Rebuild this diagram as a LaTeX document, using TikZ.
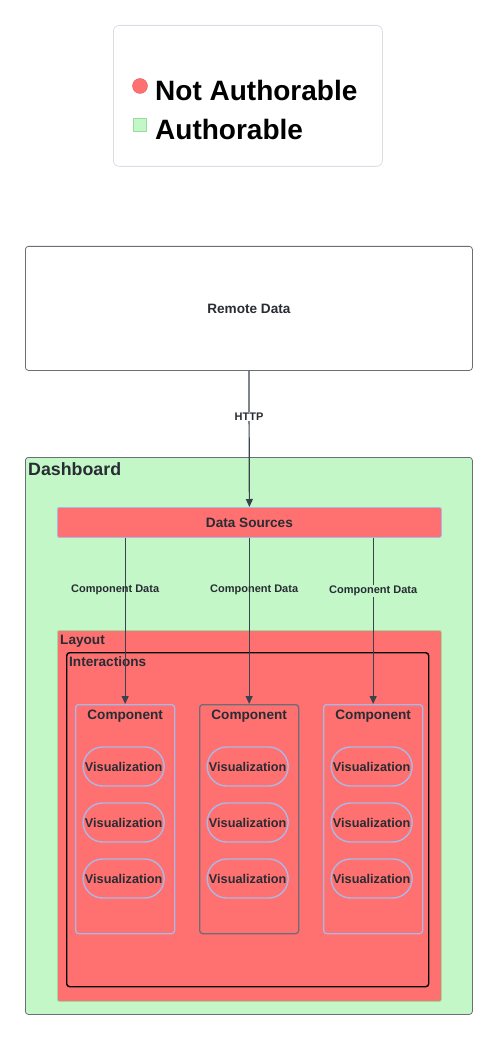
\documentclass[tikz,border=0pt]{standalone}
\usepackage{fontspec}
\setmainfont{Liberation Sans}
\usetikzlibrary{positioning,arrows.meta}
\definecolor{salmon}{HTML}{FF7070}
\definecolor{mint}{HTML}{C3F7C8}
\definecolor{mintline}{HTML}{96DE9C}
\definecolor{ink}{HTML}{282C33}
\definecolor{lilac}{HTML}{A9B8E6}
\definecolor{legendgray}{HTML}{DADEE4}
\definecolor{framegray}{HTML}{6B6F75}
\definecolor{wire}{HTML}{3A434C}
\newcommand\fsz[1]{\fontsize{#1}{#1}\selectfont}
\tikzset{
  frame/.style={draw=framegray, line width=0.8pt, rounded corners=3pt, inner sep=0pt, anchor=north west},
  title/.style={anchor=base west, inner sep=0pt, text=ink, font=\bfseries\fsz{13.6}},
  compbox/.style={frame, draw=lilac, line width=1.3pt, minimum width=99, minimum height=229},
  viz/.style={draw=lilac, line width=1.4pt, rounded corners=19.5pt, minimum width=81, minimum height=39,
    inner sep=0pt, text=ink, font=\bfseries\fsz{12.7}},
  wirelabel/.style={text=ink, font=\bfseries\fsz{11}, inner sep=1pt},
  link/.style={->, draw=wire, line width=1.2pt},
}
\begin{document}
\begin{tikzpicture}[x=1pt,y=-1pt,>={Triangle[length=8pt,width=7pt]}]
  \useasboundingbox (0,0) rectangle (497,1040);
  % legend
  \node[frame, draw=legendgray, rounded corners=6pt, minimum width=269, minimum height=141] (legend) at (113,25) {};
  \node[circle, fill=salmon, draw=salmon!85!black, line width=0.4pt, minimum size=15, inner sep=0pt] (redmark) at (140,86) {};
  \node[fill=mint, draw=mintline, line width=0.6pt, minimum size=13, inner sep=0pt] (greenmark) at (139.5,124.5) {};
  \node[title, text=black, font=\bfseries\fsz{28}] (notauth) at (155,101) {Not Authorable};
  \node[title, text=black, font=\bfseries\fsz{28}] (auth) at (155,139.5) {Authorable};
  % remote data
  \node[frame, minimum width=447, minimum height=124] (remote) at (25,246) {};
  \node[text=ink, font=\bfseries\fsz{13.6}] (remotetxt) at (remote.center) {Remote Data};
  % dashboard
  \node[frame, fill=mint, minimum width=447, minimum height=557] (dash) at (25,457) {};
  \node[title, font=\bfseries\fsz{17.8}] (dashtxt) at (28,475) {Dashboard};
  \node[frame, draw=lilac, fill=salmon, rounded corners=2pt, minimum width=384, minimum height=30] (ds) at (57,507) {};
  \node[text=ink, font=\bfseries\fsz{13.6}] (dstxt) at (ds.center) {Data Sources};
  % layout and interactions
  \node[frame, draw=mintline, fill=salmon, rounded corners=2pt, minimum width=384, minimum height=371] (layout) at (57,630) {};
  \node[title] (layouttxt) at (60,644) {Layout};
  \node[frame, draw=black, line width=1.4pt, rounded corners=3pt, minimum width=362, minimum height=334] (inter) at (66,652) {};
  \node[title] (intertxt) at (69,666) {Interactions};
  % components
  \foreach \i/\x/\c in {1/75/lilac,2/199/framegray,3/323/lilac}{
    \node[compbox, draw=\c] (c\i) at (\x,704) {};
    \node[title, anchor=base] (c\i txt) at ([yshift=-15]c\i.north) {Component};
    \foreach \j/\y in {1/766.5,2/822.5,3/878.5}
      \node[viz] (v\i\j) at ([xshift=-1.5,yshift=-(\y-704)]c\i.north) {Visualization};
  }
  % connectors
  \draw[link] (remote.south) -- (ds.north) node[pos=0.335, fill=white, wirelabel] (http) {HTTP};
  \draw[link] (ds.south -| c1.north) -- (c1.north) node[pos=0.31, wirelabel, xshift=-10] (cd1) {Component Data};
  \draw[link] (ds.south -| c2.north) -- (c2.north) node[pos=0.31, wirelabel, xshift=5] (cd2) {Component Data};
  \draw[link] (ds.south -| c3.north) -- (c3.north) node[pos=0.32, fill=mint, wirelabel] (cd3) {Component Data};
\end{tikzpicture}
\end{document}
